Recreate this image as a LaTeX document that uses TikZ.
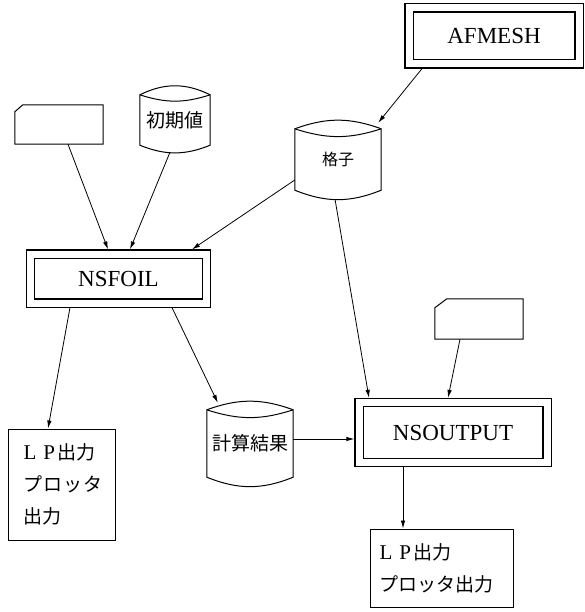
\documentclass[tikz,border=0pt]{standalone}
\usepackage{fontspec}
\setmainfont{Liberation Serif}
\newfontfamily\jp{Noto Sans CJK JP}
\usetikzlibrary{arrows.meta,calc}
\newcommand\cylout[2]{%
  \draw[line width=1pt] (#1.north west) to[bend left=#2] (#1.north east) -- (#1.south east) to[bend left=22] (#1.south west) -- cycle;
  \draw[line width=1pt] (#1.north west) to[bend right=18] (#1.north east);
}
\newcommand\cardout[3]{%
  \draw[line width=1pt] ([yshift=-#3]#1.north west) -- ([xshift=#2]#1.north west) -- (#1.north east) -- (#1.south east) -- (#1.south west) -- cycle;
}
\begin{document}
\begin{tikzpicture}[x=1pt,y=-1pt,
  dbl/.style={draw,line width=1.1pt,double,double distance=7pt,inner sep=0pt,outer sep=4.6pt,font=\fontsize{23}{23}\selectfont},
  arr/.style={line width=0.8pt,-{Latex[length=8pt,width=4.5pt]}},
  cylbody/.style={inner sep=0pt,font=\jp\fontsize{19}{19}\selectfont},
  cardbody/.style={inner sep=0pt},
  lp/.style={draw,line width=1pt,inner sep=0pt,align=left,font=\jp\fontsize{19}{32}\selectfont}]

\useasboundingbox (0,0) rectangle (584,612);

% double boxes
\node[dbl,minimum width=170pt,minimum height=56pt] (afmesh) at (494,36) {AFMESH};
\node[dbl,minimum width=176pt,minimum height=49pt] (nsfoil) at (118.5,278.5) {NSFOIL};
\node[dbl,minimum width=188pt,minimum height=60pt] (nsout) at (453,432.5) {NSOUTPUT};

% cards
\node[cardbody,minimum width=88pt,minimum height=39pt] (card1) at (59,124.5) {};
\cardout{card1}{8pt}{7pt}
\node[cardbody,minimum width=88pt,minimum height=40pt] (card2) at (479,319) {};
\cardout{card2}{12pt}{9pt}

% cylinders
\node[cylbody,minimum width=70pt,minimum height=50pt] (shoki) at (175,120) {\raisebox{-6pt}{初期値}};
\cylout{shoki}{26}
\node[cylbody,minimum width=86pt,minimum height=61pt,font=\jp\fontsize{16}{16}\selectfont] (kaku) at (338,159.5) {\raisebox{-8pt}{格子}};
\cylout{kaku}{20}
\node[cylbody,minimum width=86pt,minimum height=67pt] (keisan) at (250,443.5) {\raisebox{-6pt}{計算結果}};
\cylout{keisan}{20}

% output boxes
\node[lp,minimum width=107pt,minimum height=111pt,text width=76pt] (lp1) at (61.5,484.5)
  {\mbox{{\rmfamily\fontsize{21}{21}\selectfont L\hspace{7pt}P}\hspace{2pt}出力}\\\mbox{プ\hspace{1pt}ロ\hspace{1pt}ッ\hspace{1pt}タ}\\出力};
\node[lp,minimum width=143pt,minimum height=78pt,text width=124pt] (lp2) at (441.5,568)
  {\mbox{{\rmfamily\fontsize{21}{21}\selectfont L\hspace{7pt}P}\hspace{2pt}出力}\\\mbox{プロッタ出力}};

% connectors
\draw[arr] ([xshift=9pt]card1.south) -- ([xshift=-10.5pt]nsfoil.north);
\draw[arr] ([shift={(-5pt,-7pt)}]shoki.south) -- ([xshift=11.5pt]nsfoil.north);
\draw[arr] ([yshift=-20.5pt]kaku.west) -- ([xshift=73.5pt]nsfoil.north);
\draw[arr] ([xshift=-72pt]afmesh.south) -- ([shift={(-3pt,6pt)}]kaku.north east);
\draw[arr] ([shift={(-3pt,-9pt)}]kaku.south) -- ([xshift=-84pt]nsout.north);
\draw[arr] ([xshift=-19pt]card2.south) -- ([xshift=-5pt]nsout.north);
\draw[arr] ([xshift=-48.5pt]nsfoil.south) -- ([xshift=-13.5pt]lp1.north);
\draw[arr] ([xshift=53.5pt]nsfoil.south) -- ([shift={(11pt,7pt)}]keisan.north west);
\draw[arr] ([yshift=4.5pt]keisan.east) -- ([yshift=4.5pt]keisan.east -| nsout.west);
\draw[arr] ([xshift=-50pt]nsout.south) -- ([xshift=-50pt]nsout.south |- lp2.north);
\end{tikzpicture}
\end{document}
